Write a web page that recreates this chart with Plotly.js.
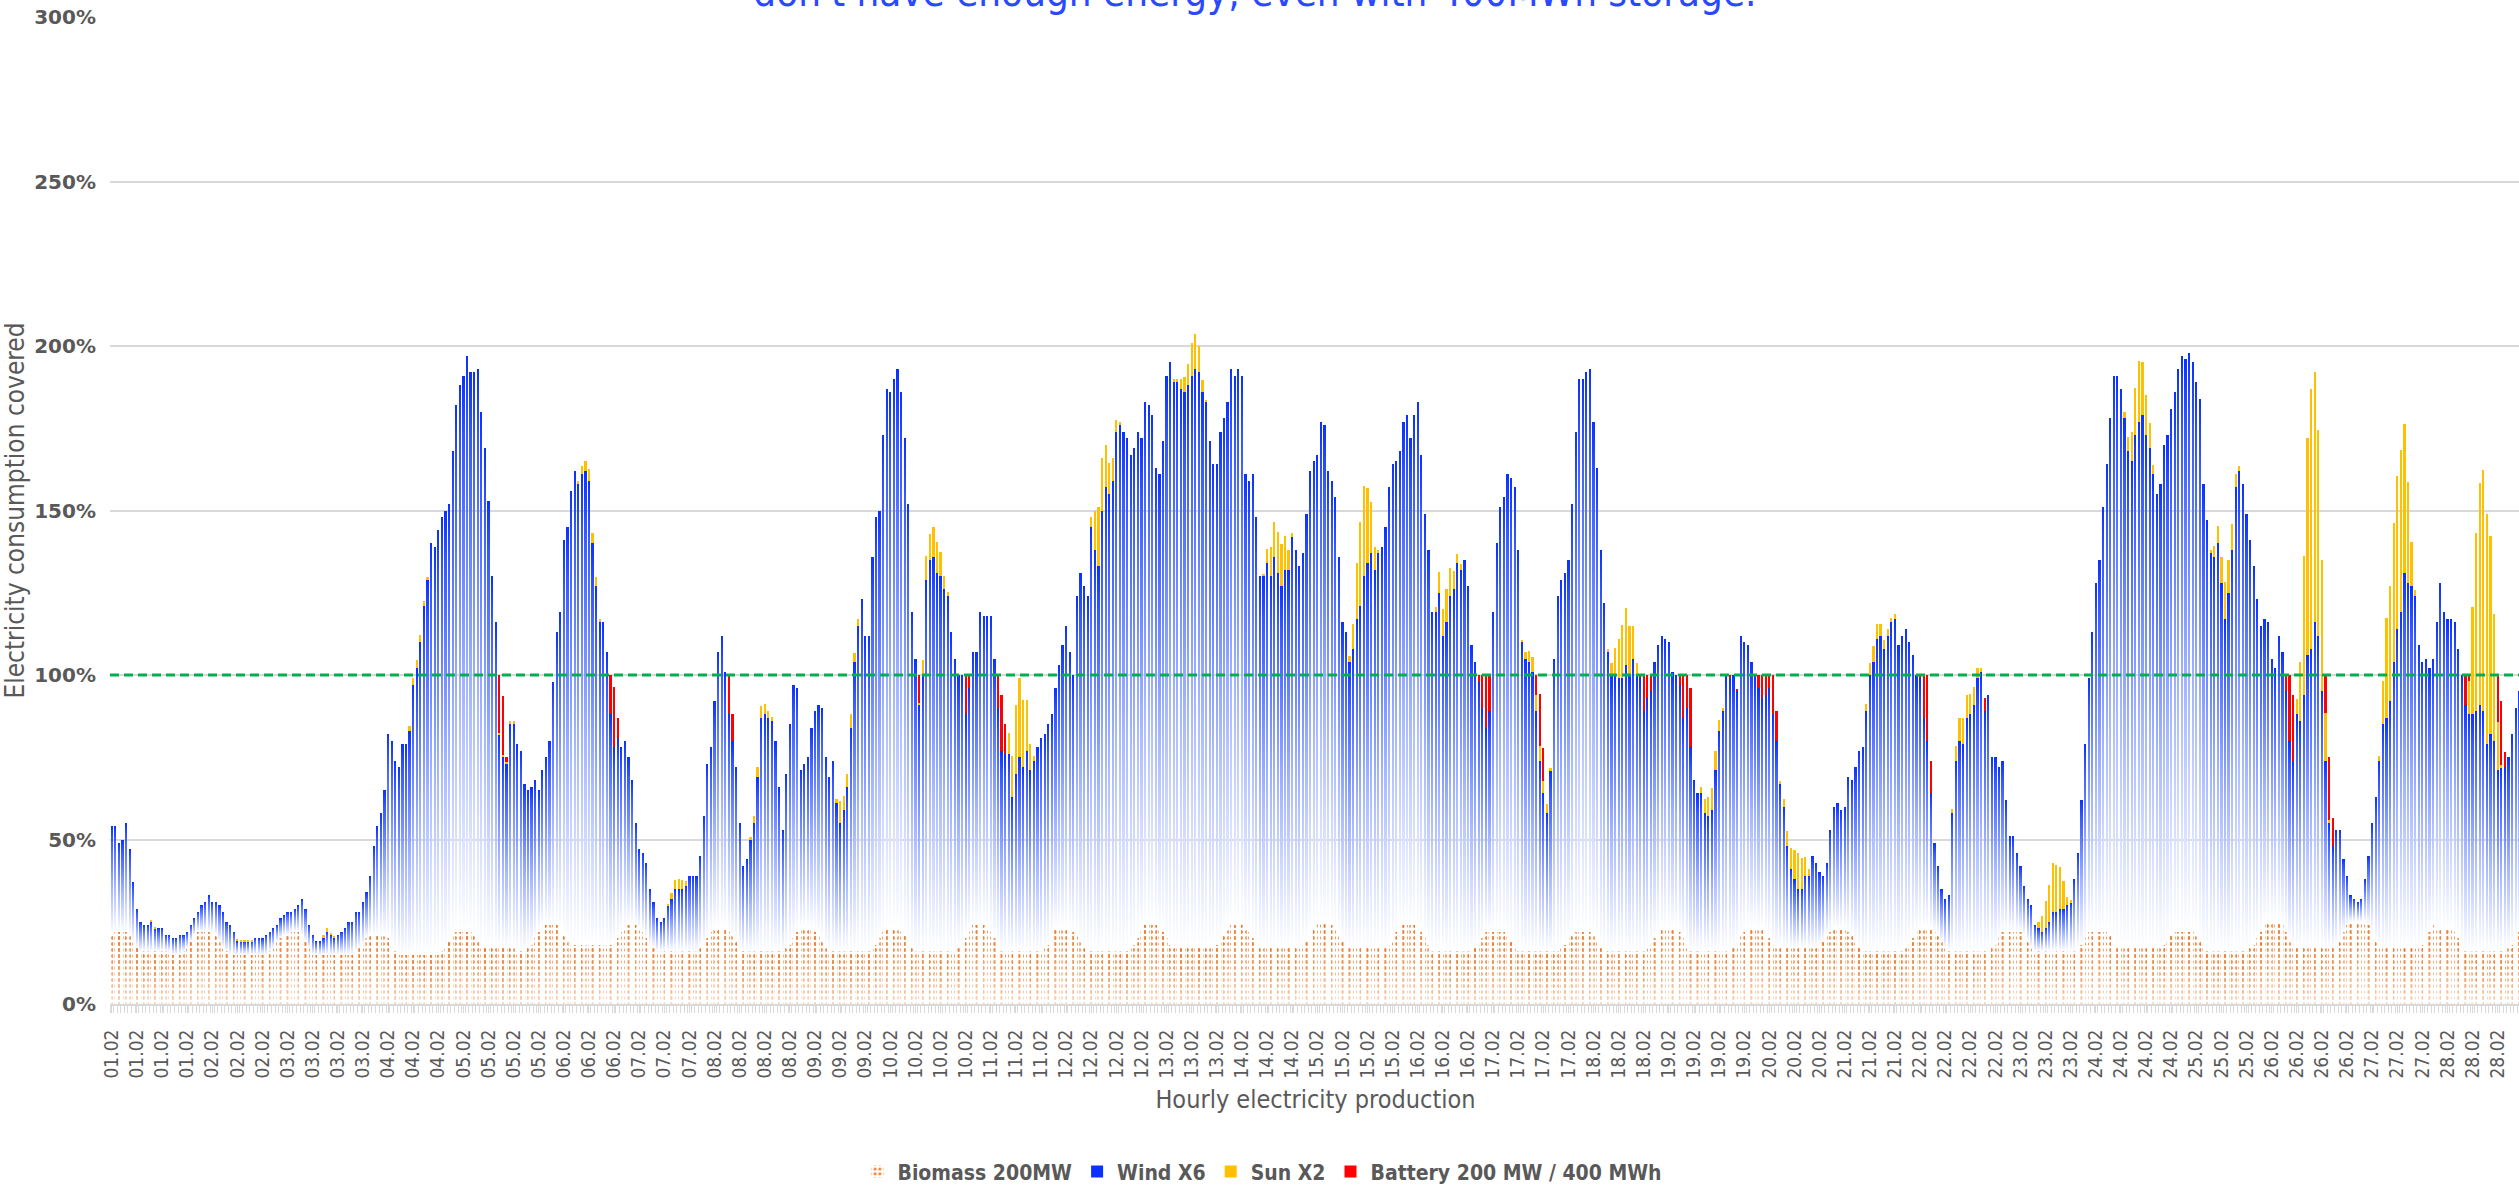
<!DOCTYPE html>
<html>
<head>
<meta charset="utf-8">
<script src="https://cdn.plot.ly/plotly-3.0.1.min.js"></script>
<style>
html,body{margin:0;padding:0;overflow:hidden;background:#ffffff;}
#chart{width:2525px;height:1185px;}
</style>
</head>
<body>
<div id="chart"></div>
<script>
// ---------- DATA (percent of hourly electricity consumption covered) ----------
const dayLabels = ["01.02","02.02","03.02","04.02","05.02","06.02","07.02","08.02","09.02","10.02",
  "11.02","12.02","13.02","14.02","15.02","16.02","17.02","18.02","19.02","20.02",
  "21.02","22.02","23.02","24.02","25.02","26.02","27.02","28.02"];

const seriesNames = ["Biomass 200MW", "Wind X6", "Sun X2", "Battery 200 MW / 400 MWh"];
const targetLevel = 100;

// one row per day, 24 hourly values
const biomassByDay = [
  [21,22,22,22,22,21,19,17,16,16,16,16,16,16,16,16,16,15,15,15,16,17,19,21],
  [22,22,22,22,22,21,19,17,16,15,15,15,15,15,15,15,15,15,15,15,16,17,19,20],
  [21,21,22,22,22,21,19,17,15,15,15,15,15,15,15,15,15,15,15,15,16,17,18,20],
  [21,21,21,21,21,20,18,16,15,15,15,15,15,15,15,15,15,15,15,15,16,17,19,21],
  [22,22,22,22,22,21,19,17,17,17,17,17,17,17,17,17,17,16,16,16,17,18,20,22],
  [23,24,24,24,24,23,21,19,18,18,18,18,18,18,18,18,18,18,18,18,19,20,22,23],
  [24,24,24,23,22,20,18,17,16,16,16,16,16,16,16,16,16,16,16,16,17,18,20,22],
  [23,23,23,23,22,21,19,17,16,16,16,16,16,16,16,16,16,16,16,16,17,18,20,22],
  [23,23,23,23,22,21,19,17,16,16,16,16,16,16,16,16,16,16,16,16,17,18,20,22],
  [23,23,23,23,22,21,19,17,16,16,16,16,16,16,16,16,16,16,16,16,17,18,20,22],
  [24,24,24,24,23,22,20,18,16,16,16,16,16,16,16,16,16,16,16,16,17,18,21,23],
  [23,23,23,23,22,21,19,17,16,16,16,16,16,16,16,16,16,16,16,16,17,18,20,22],
  [24,24,24,24,23,22,20,18,17,17,17,17,17,17,17,17,17,17,17,17,18,19,21,23],
  [24,24,24,24,23,22,20,18,17,17,17,17,17,17,17,17,17,17,17,17,18,19,21,23],
  [25,25,25,25,24,23,21,19,17,17,17,17,17,17,17,17,17,17,17,17,18,19,22,24],
  [24,24,24,24,23,22,20,18,16,16,16,16,16,16,16,16,16,16,16,16,17,18,20,22],
  [22,22,22,22,22,21,19,17,16,16,16,16,16,16,16,16,16,16,16,16,17,18,20,21],
  [22,22,22,22,22,21,19,17,16,16,16,16,16,16,16,16,16,16,16,16,17,18,20,22],
  [23,23,23,23,23,22,20,18,16,16,16,16,16,16,16,16,16,16,16,16,17,18,21,22],
  [23,23,23,23,23,22,20,18,17,17,17,17,17,17,17,17,17,17,17,17,18,19,21,22],
  [23,23,23,23,22,21,19,17,16,16,16,16,16,16,16,16,16,16,16,16,17,18,20,22],
  [23,23,23,23,22,21,19,17,16,16,16,16,16,16,16,16,16,16,16,16,17,18,20,22],
  [22,22,22,22,22,21,19,17,16,16,16,16,16,16,16,16,16,16,16,16,17,18,20,22],
  [22,22,22,22,22,21,19,17,17,17,17,17,17,17,17,17,17,17,17,17,18,19,21,22],
  [22,22,22,22,22,21,19,17,16,16,16,16,16,16,16,16,16,16,16,16,17,18,20,22],
  [25,25,25,25,25,24,22,19,17,17,17,17,17,17,17,17,17,17,17,17,18,19,22,24],
  [25,25,25,25,25,24,22,19,17,17,17,17,17,17,17,17,17,17,17,17,18,19,22,24],
  [23,23,23,23,23,22,20,18,16,16,16,16,16,16,16,16,16,16,16,16,17,18,20,22]
];

const windByDay = [
  [33,32,27,28,33,26,18,12,9,8,8,9,7,7,7,5,5,5,5,6,5,5,5,5],
  [6,8,9,11,9,10,11,11,9,9,7,4,4,4,4,4,5,5,5,6,6,6,5,6],
  [6,7,6,7,8,11,10,7,6,4,4,5,7,6,5,6,7,8,10,10,12,11,13,14],
  [18,27,33,37,44,62,62,58,57,64,64,68,82,87,95,106,114,125,124,129,132,133,133,147],
  [160,166,169,175,170,171,174,163,152,136,113,99,65,58,56,68,68,63,61,51,48,48,48,43],
  [48,51,56,74,89,96,120,126,138,144,140,143,144,141,122,109,98,98,89,70,59,61,56,57],
  [51,44,31,24,24,23,17,14,10,9,10,14,16,19,19,19,20,23,23,23,28,39,53,56],
  [69,84,89,78,66,59,53,38,26,28,34,39,53,71,72,71,70,64,50,37,53,67,77,74],
  [48,50,52,61,67,70,71,58,53,58,45,39,43,50,68,88,99,107,96,96,119,130,130,151],
  [164,163,167,170,164,151,133,102,89,75,84,113,119,120,115,114,110,108,97,89,83,82,68,74],
  [83,83,95,94,95,96,85,72,61,60,60,47,54,59,56,61,55,58,62,65,65,67,67,73],
  [80,86,92,84,78,103,112,110,108,129,122,117,134,141,139,143,158,160,158,156,150,151,154,150],
  [159,158,155,139,138,149,171,177,172,172,170,169,171,174,176,175,169,166,154,147,146,155,157,160],
  [169,167,169,167,138,137,141,130,113,113,117,113,119,114,110,115,115,125,121,116,119,130,141,142],
  [142,152,151,137,135,131,115,97,96,87,91,100,104,113,117,120,115,120,122,128,139,145,143,144],
  [153,155,148,155,160,145,129,120,103,103,109,96,100,108,110,118,116,119,111,93,87,80,70,62],
  [67,97,118,129,132,140,141,140,122,94,89,88,85,73,58,48,42,55,89,108,112,113,115,131],
  [152,168,168,170,171,156,144,121,106,91,84,84,83,83,87,84,89,84,83,73,76,77,84,87],
  [89,88,87,78,77,75,67,72,62,52,48,48,42,41,43,55,67,73,84,83,83,77,91,88],
  [86,81,77,73,70,72,76,70,63,50,43,31,24,21,18,18,22,22,28,26,22,20,22,31],
  [37,38,36,37,47,47,53,60,62,73,84,88,95,96,92,96,100,101,93,96,97,92,86,78],
  [76,64,57,41,27,21,16,15,17,42,58,64,63,71,72,75,83,85,73,78,58,57,52,52],
  [40,29,29,24,20,15,13,13,8,7,6,7,9,12,12,13,13,14,15,22,29,44,59,77],
  [91,106,113,129,142,157,172,174,170,161,151,148,156,160,162,156,152,144,138,141,152,154,160,164],
  [171,175,174,176,173,168,165,141,131,121,120,124,112,101,109,122,141,146,142,133,124,115,103,93],
  [92,91,80,77,87,83,73,61,57,71,69,77,89,91,99,95,78,57,38,31,35,34,22,15],
  [8,7,6,7,13,21,33,44,57,68,70,75,87,97,102,114,111,110,107,92,86,86,80,81],
  [93,105,96,94,94,94,88,82,75,72,72,73,75,73,63,66,64,55,56,56,58,64,70,73]
];

const sunByDay = [
  [0,0,0,0,0,0,0,0,0,0,0,0.5,0.5,0,0,0,0,0,0,0,0,0,0,0],
  [0,0,0,0,0,0,0,0,0,0,0,0.8,0.6,0.5,0.6,0.6,0,0,0,0,0,0,0,0],
  [0,0,0,0,0,0,0,0,0,0,0,1,1.2,0.5,0.8,0,0,0,0,0,0,0,0,0],
  [0,0,0,0,0,0,0,0,0,0,0,1.5,2,2.7,2.2,1.6,0.7,0,0,0,0,0,0,0],
  [0,0,0,0,0,0,0,0,0,0,0,0,0.5,0.7,0.5,1,1,0,0,0,0,0,0,0],
  [0,0,0,0,0,0,0,0,0,0,1,2.5,3,3.5,3.3,2.8,1.1,0,0,0,0,0,0,0],
  [0,0,0,0,0,0,0,0,0,0,0,0.4,1.7,2.7,3,2.7,1.4,0,0,0,0,0,0,0],
  [0,0,0,0,0,0,0,0,0,0,0.7,2,3,3.6,3.2,2,1.1,0,0,0,0,0,0,0],
  [0,0,0,0,0,0,0,0,0,0,1.4,6.7,4.1,3.9,4.1,2.7,2,0,0,0,0,0,0,0],
  [0,0,0,0,0,0,0,0,0,0.5,4.7,7.2,7.9,9,9.5,7.3,4,1.1,0,0,0,0,0,0],
  [0,0,0,0,0,0,0,0,0,0,6.5,12.5,21,24,20.5,15.5,8,1.5,0,0,0,0,0,0],
  [0,0,0,0,0,0,0,0,0,3,12,18,16,13,9.5,7,3.5,1,0,0,0,0,0,0],
  [0,0,0,0,0,0,0,0,1,1,3,4.5,6.4,9.8,10.5,8,3.8,0.7,0,0,0,0,0,0],
  [0,0,0,0,0,0,0,0,0,0.7,4.4,9,10.4,12.4,12.7,10.1,6.1,1.3,0,0,0,0,0,0],
  [0,0,0,0,0,0,0,0,0,1.7,7.6,17,25.4,27.5,22.8,15.7,6.8,1.1,0,0,0,0,0,0],
  [0,0,0,0,0,0,0,0,0,1.8,6.2,8.1,10.2,8.6,5.7,2.9,1.7,0,0,0,0,0,0,0],
  [0,0,0,0,0,0,0,0,0,0.7,2,3.4,4.5,5,4.3,3.8,2.8,0.6,0,0,0,0,0,0],
  [0,0,0,0,0,0,0,0,0,1,3.6,8.3,12,16.3,17.4,15,10,3.5,0,0,0,0,0,0],
  [0,0,0,0,0,0,0,0,0,0,0,2,4.4,6,6.7,5.8,3.4,1.1,0,0,0,0,0,0],
  [0,0,0,0,0,0,0,0,0,0.9,2.4,4.5,6.4,8.9,10.9,9.5,5.8,2,0,0,0,0,0,0],
  [0,0,0,0,0,0,0,0,0,2.3,3.8,4.7,4.4,3.4,2.7,2,1.4,1.4,0,0,0,0,0,0],
  [0,0,0,0,0,0,0,0,0,1.4,4.5,6.8,7.8,7,6.3,5.5,3.1,1.1,0,0,0,0,0,0],
  [0,0,0,0,0,0,0,0,0,1.8,4.8,8.4,11.2,14.8,14.2,12.5,8.3,2.4,0.6,0,0,0,0,0],
  [0,0,0,0,0,0,0,0,0,2,4.3,8.9,14.2,18.4,16.1,12.2,7.5,2.7,0,0,0,0,0,0],
  [0,0,0,0,0,0,0,0,0,1.1,3.2,5.4,7.9,11.3,9.9,7.9,4.2,1.6,0,0,0,0,0,0],
  [0,0,0,0,0,0,0,0,0,4.8,17.9,42.1,65.9,78.9,76.1,62.5,40.1,14.3,1,0,0,0,0,0],
  [0,0,0,0,0,0,0,0,1.4,13.2,30.3,35.2,42.3,46.4,49.5,45.4,30.6,13.3,1.7,0,0,0,0,0],
  [0,0,0,0,0,0,0,0,0,10.2,32.6,54.1,67.4,73.4,70,60.1,38.5,14.7,0.5,0,0,0,0,0]
];

const batteryByDay = [
  [0,0,0,0,0,0,0,0,0,0,0,0,0,0,0,0,0,0,0,0,0,0,0,0],
  [0,0,0,0,0,0,0,0,0,0,0,0,0,0,0,0,0,0,0,0,0,0,0,0],
  [0,0,0,0,0,0,0,0,0,0,0,0,0,0,0,0,0,0,0,0,0,0,0,0],
  [0,0,0,0,0,0,0,0,0,0,0,0,0,0,0,0,0,0,0,0,0,0,0,0],
  [0,0,0,0,0,0,0,0,0,0,0,0,17.5,18,1.5,0,0,0,0,0,0,0,0,0],
  [0,0,0,0,0,0,0,0,0,0,0,0,0,0,0,0,0,0,0,12,18.5,6,0,0],
  [0,0,0,0,0,0,0,0,0,0,0,0,0,0,0,0,0,0,0,0,0,0,0,0],
  [0,0,0,0,12,8,0,0,0,0,0,0,0,0,0,0,0,0,0,0,0,0,0,0],
  [0,0,0,0,0,0,0,0,0,0,0,0,0,0,0,0,0,0,0,0,0,0,0,0],
  [0,0,0,0,0,0,0,0,0,8.5,0,0,0,0,0,0,0,0,0,0,0,0,12,4],
  [0,0,0,0,0,0,0,10,17,9,0,0,0,0,0,0,0,0,0,0,0,0,0,0],
  [0,0,0,0,0,0,0,0,0,0,0,0,0,0,0,0,0,0,0,0,0,0,0,0],
  [0,0,0,0,0,0,0,0,0,0,0,0,0,0,0,0,0,0,0,0,0,0,0,0],
  [0,0,0,0,0,0,0,0,0,0,0,0,0,0,0,0,0,0,0,0,0,0,0,0],
  [0,0,0,0,0,0,0,0,0,0,0,0,0,0,0,0,0,0,0,0,0,0,0,0],
  [0,0,0,0,0,0,0,0,0,0,0,0,0,0,0,0,0,0,0,0,0,2,10,16],
  [11,0,0,0,0,0,0,0,0,0,0,0,0,6,16,10,0,0,0,0,0,0,0,0],
  [0,0,0,0,0,0,0,0,0,0,0,0,0,0,0,0,0,0,1,11,7,5,0,0],
  [0,0,0,0,0,3,13,10,18,0,0,0,0,0,0,0,0,0,0,1,0,0.7,0,0],
  [0,0,0,4,7,6,4,12,9,0,0,0,0,0,0,0,0,0,0,0,0,0,0,0],
  [0,0,0,0,0,0,0,0,0,0,0,0,0,0,0,0,0,0,0,0,0,0,0,0],
  [1,13,20,10,0,0,0,0,0,0,0,0,0,0,0,0,0,0,4,0,0,0,0,0],
  [0,0,0,0,0,0,0,0,0,0,0,0,0,0,0,0,0,0,0,0,0,0,0,0],
  [0,0,0,0,0,0,0,0,0,0,0,0,0,0,0,0,0,0,0,0,0,0,0,0],
  [0,0,0,0,0,0,0,0,0,0,0,0,0,0,0,0,0,0,0,0,0,0,0,0],
  [0,0,0,0,0,0,5,20,20,0,0,0,0,0,0,0,0,12,19,8.5,0,0,0,0],
  [0,0,0,0,0,0,0,0,0,0,0,0,0,0,0,0,0,0,0,0,0,0,0,0],
  [0,0,0,0,0,0,0,0,9,1.5,0,0,0,0,0,0,0,14.5,19.5,4.7,0,0,0,0]
];

// ---------- checks ----------
[["biomass",biomassByDay],["wind",windByDay],["sun",sunByDay],["battery",batteryByDay]].forEach(([n,a])=>{
  if (a.length !== dayLabels.length) throw new Error(n + " days " + a.length);
  a.forEach((r,d)=>{ if (r.length !== 24) throw new Error(n + " day " + (d+1) + " has " + r.length); });
});

const biomass = biomassByDay.flat();
const wind = windByDay.flat();
const sun = sunByDay.flat();
const battery = batteryByDay.flat();
const hourIndex = biomass.map((_, i) => i);
const hourDay = hourIndex.map(i => dayLabels[Math.floor(i / 24)]);
const tickIdx = hourIndex.filter(i => i % 7 === 0);
const tickTxt = tickIdx.map(i => hourDay[i]);

// ---------- style ----------
const CONDENSED = '"DejaVu Sans Condensed", "Liberation Sans Narrow", "Roboto Condensed", Roboto, sans-serif';
const GREY = '#595959';
const W = 2525, H = 1185, ML = 110, MR = 4;

const common = { type: 'bar', x: hourIndex, hoverinfo: 'skip' };
const data = [
  Object.assign({}, common, { name: seriesNames[0], y: biomass,
    marker: { color: '#ffffff', line: { width: 0 },
      pattern: { shape: '.', fgcolor: '#F07A2A', bgcolor: '#ffffff', size: 6, solidity: 0.33 } } }),
  Object.assign({}, common, { name: seriesNames[1], y: wind,
    marker: { color: '#0A32FF', line: { width: 0 } } }),
  Object.assign({}, common, { name: seriesNames[2], y: sun,
    marker: { color: '#FFC000', line: { width: 0 } } }),
  Object.assign({}, common, { name: seriesNames[3], y: battery,
    marker: { color: '#FF0000', line: { width: 0 } } })
];

const layout = {
  width: W, height: H,
  margin: { l: ML, r: MR, t: 17, b: 181, pad: 0, autoexpand: false },
  paper_bgcolor: '#ffffff', plot_bgcolor: '#ffffff',
  barmode: 'stack', bargap: 0.38,
  showlegend: true,
  title: {
    text: "don't have enough energy, even with 400MWh storage.",
    font: { family: CONDENSED, size: 40, color: '#2A48FF' },
    xref: 'container', x: 0.497, xanchor: 'center',
    yref: 'paper', y: 1, yanchor: 'bottom', pad: { t: 0, b: 11, l: 0, r: 0 }
  },
  xaxis: {
    type: 'linear', range: [-0.5, hourIndex.length - 0.5], fixedrange: true,
    tickmode: 'array', tickvals: tickIdx, ticktext: tickTxt, tickangle: -90,
    tickfont: { family: CONDENSED, size: 19, color: GREY },
    ticks: 'outside', ticklen: 7, tickwidth: 1, tickcolor: '#d9d9d9', ticklabelstandoff: 9,
    minor: { dtick: 1, tick0: 0.5, ticks: 'outside', ticklen: 7, tickwidth: 1, tickcolor: '#d9d9d9', showgrid: false },
    showline: true, linecolor: '#d9d9d9', linewidth: 2,
    showgrid: false, zeroline: false, automargin: false,
    title: { text: 'Hourly electricity production', font: { family: CONDENSED, size: 25, color: GREY }, standoff: 13 }
  },
  yaxis: {
    range: [0, 300], dtick: 50, ticksuffix: '%', fixedrange: true,
    tickfont: { family: '"DejaVu Sans", Verdana, sans-serif', size: 20, color: GREY, weight: 'bold' },
    ticks: '', ticklabelstandoff: 13, automargin: false,
    showgrid: true, gridcolor: '#d9d9d9', gridwidth: 1.5,
    zeroline: false, showline: false,
    title: { text: 'Electricity consumption covered', font: { family: CONDENSED, size: 26, color: GREY }, standoff: 6 }
  },
  legend: {
    orientation: 'h', x: (W / 2 - ML) / (W - ML - MR), xanchor: 'center',
    y: -0.17, yanchor: 'middle',
    font: { family: CONDENSED, size: 21, color: GREY, weight: 'bold' },
    itemwidth: 30, traceorder: 'normal', itemclick: false, itemdoubleclick: false
  },
  shapes: [{
    type: 'line', xref: 'paper', x0: 0, x1: 1, yref: 'y', y0: targetLevel, y1: targetLevel,
    line: { color: '#00B050', width: 3, dash: '9px,5px' }, layer: 'above'
  }]
};

const gd = document.getElementById('chart');
Plotly.newPlot(gd, data, layout, { displayModeBar: false, responsive: false }).then(() => {
  const ns = 'http://www.w3.org/2000/svg';
  const svg = gd.querySelector('svg.main-svg');
  let defs = svg.querySelector('defs');
  if (!defs) { defs = document.createElementNS(ns, 'defs'); svg.insertBefore(defs, svg.firstChild); }

  const g = document.createElementNS(ns, 'linearGradient');
  g.setAttribute('id', 'windFade');
  g.setAttribute('x1', '0'); g.setAttribute('y1', '0'); g.setAttribute('x2', '0'); g.setAttribute('y2', '1');
  [['0', '#0A30FF'], ['0.12', '#3558FF'], ['0.55', '#9FB2FF'], ['1', '#FFFFFF']].forEach(([o, c]) => {
    const s = document.createElementNS(ns, 'stop');
    s.setAttribute('offset', o); s.setAttribute('stop-color', c);
    g.appendChild(s);
  });
  defs.appendChild(g);

  const bg = document.createElementNS(ns, 'linearGradient');
  bg.setAttribute('id', 'bioFadeGrad');
  bg.setAttribute('x1', '0'); bg.setAttribute('y1', '0'); bg.setAttribute('x2', '0'); bg.setAttribute('y2', '1');
  [['0', '#ffffff'], ['0.4', '#d0d0d0'], ['1', '#505050']].forEach(([o, c]) => {
    const s = document.createElementNS(ns, 'stop');
    s.setAttribute('offset', o); s.setAttribute('stop-color', c);
    bg.appendChild(s);
  });
  defs.appendChild(bg);
  const mask = document.createElementNS(ns, 'mask');
  mask.setAttribute('id', 'bioMask');
  mask.setAttribute('maskContentUnits', 'objectBoundingBox');
  const mr = document.createElementNS(ns, 'rect');
  mr.setAttribute('x', '0'); mr.setAttribute('y', '0'); mr.setAttribute('width', '1'); mr.setAttribute('height', '1');
  mr.setAttribute('fill', 'url(#bioFadeGrad)');
  mask.appendChild(mr);
  defs.appendChild(mask);

  const traces = gd.querySelectorAll('.barlayer .trace.bars');
  if (traces[1]) traces[1].querySelectorAll('path').forEach(p => { p.style.fill = 'url(#windFade)'; });
  if (traces[0]) traces[0].querySelectorAll('path').forEach(p => { p.setAttribute('mask', 'url(#bioMask)'); });
});
</script>
</body>
</html>
